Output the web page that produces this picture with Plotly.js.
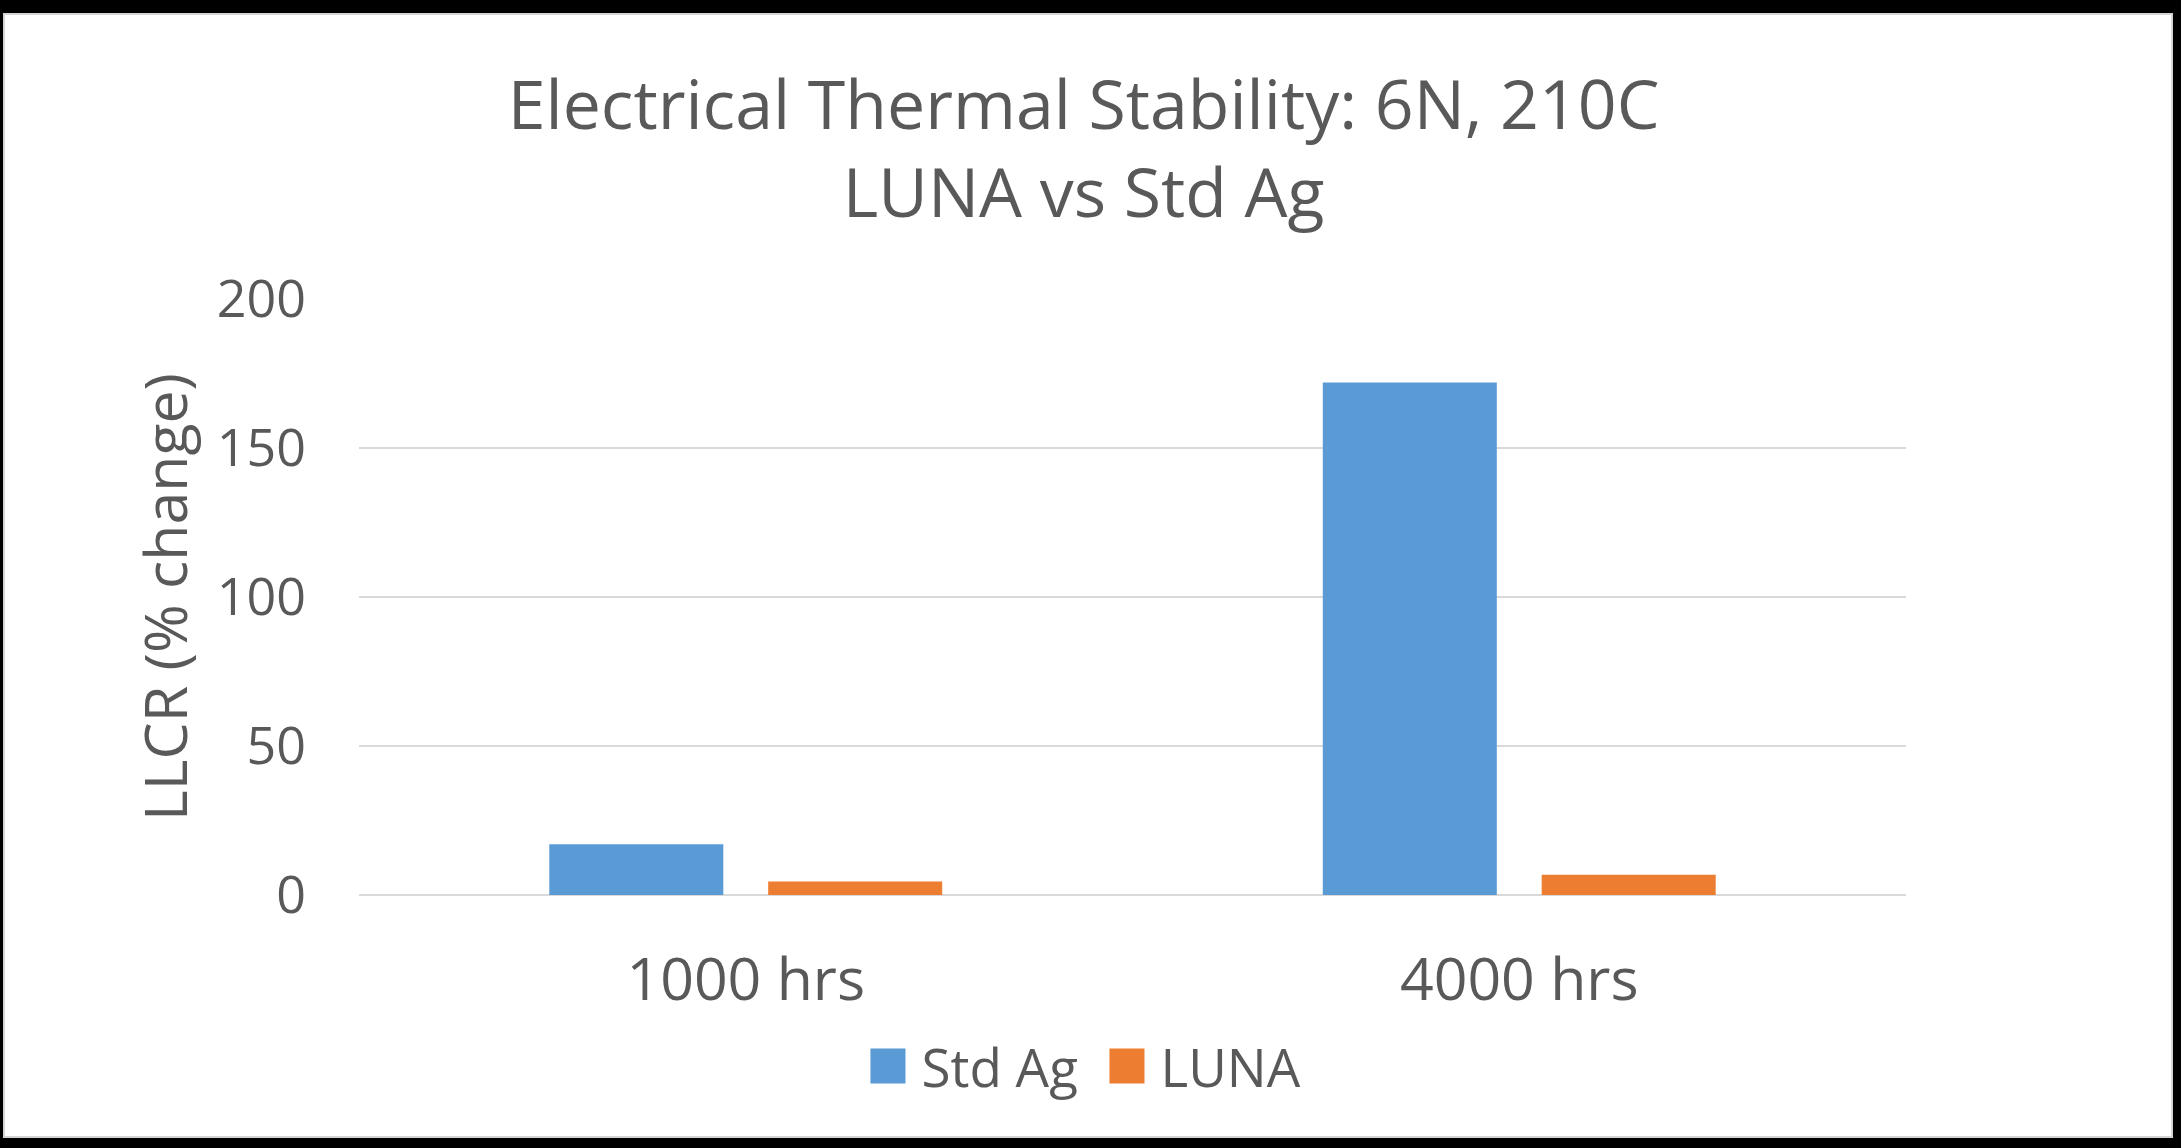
<!DOCTYPE html>
<html>
<head>
<meta charset="utf-8">
<script src="https://cdn.plot.ly/plotly-3.0.1.min.js"></script>
<style>
  html, body { margin: 0; padding: 0; background: #000; width: 2181px; height: 1148px; overflow: hidden; }
  #frame { position: absolute; left: 3px; top: 13px; width: 2170px; height: 1125px; background: #fff; }
  #chart { position: absolute; left: 0; top: 0; width: 2170px; height: 1125px; }
  #edge { position: absolute; left: 0; top: 0; width: 2170px; height: 1125px; box-sizing: border-box; border: 2px solid #d4d4d4; pointer-events: none; }
</style>
</head>
<body>
<div id="frame"><div id="chart"></div><div id="edge"></div></div>
<script>
// ---- data ----
const categories = ["1000 hrs", "4000 hrs"];
const stdAgValues = [17, 172];
const lunaValues = [4.5, 6.8];
const seriesNames = ["Std Ag", "LUNA"];
const yTickValues = [0, 50, 100, 150, 200];
const yTickLabels = ["0", "50", "100", "150", "200"];
const chartTitle = "Electrical Thermal Stability: 6N, 210C<br>LUNA vs Std Ag";
const yTitle = "LLCR (% change)";

const FONT = "Open Sans, Noto Sans, sans-serif";
const TXT = "#595959";

const traces = [
  { type: "bar", name: seriesNames[0], x: categories, y: stdAgValues,
    marker: { color: "#5B9BD5", line: { width: 0 } }, hoverinfo: "x+y+name" },
  { type: "bar", name: seriesNames[1], x: categories, y: lunaValues,
    marker: { color: "#ED7D31", line: { width: 0 } }, hoverinfo: "x+y+name" }
];

const layout = {
  width: 2170, height: 1125,
  paper_bgcolor: "#ffffff", plot_bgcolor: "#ffffff",
  margin: { l: 356, r: 267, t: 286, b: 243, pad: 0 },
  font: { family: FONT, color: TXT },
  title: {
    text: chartTitle,
    font: { family: FONT, size: 68, color: TXT },
    x: 0.498, xref: "container", xanchor: "center",
    y: 0.897, yref: "container", yanchor: "top"
  },
  barmode: "group",
  bargap: 0.434,
  bargroupgap: 0.205,
  xaxis: {
    type: "category",
    showgrid: false, zeroline: false, showline: false,
    ticks: "",
    tickfont: { family: FONT, size: 59, color: TXT },
    ticklabelstandoff: 45,
    automargin: false
  },
  yaxis: {
    range: [0, 200],
    tickvals: yTickValues, ticktext: yTickLabels,
    showgrid: true, gridcolor: "#D9D9D9", gridwidth: 2,
    zeroline: true, zerolinecolor: "#D9D9D9", zerolinewidth: 2,
    showline: false, ticks: "",
    tickfont: { family: FONT, size: 52, color: TXT },
    ticklabelstandoff: 52,
    automargin: false,
    title: { text: yTitle, font: { family: FONT, size: 59, color: TXT }, standoff: 10 }
  },
  showlegend: true,
  legend: {
    orientation: "h",
    xref: "container", yref: "container",
    x: 0.391, xanchor: "left",
    y: 0.064, yanchor: "middle",
    font: { family: FONT, size: 53, color: TXT },
    itemwidth: 60,
    entrywidth: 164, entrywidthmode: "pixels",
    bgcolor: "rgba(0,0,0,0)", borderwidth: 0,
    traceorder: "normal"
  }
};

Plotly.newPlot("chart", traces, layout, { displayModeBar: false, staticPlot: true }).then(function (gd) {
  // enlarge legend swatches to match the reference's large square keys
  gd.querySelectorAll(".legend .traces").forEach(function (item) {
    const txt = item.querySelector("text.legendtext");
    const tx = txt ? parseFloat(txt.getAttribute("x")) : 70;
    item.querySelectorAll(".legendpoints path").forEach(function (p) {
      p.setAttribute("transform", "translate(" + (tx - 33.5) + ",0) scale(2.92)");
    });
  });
});
</script>
</body>
</html>
